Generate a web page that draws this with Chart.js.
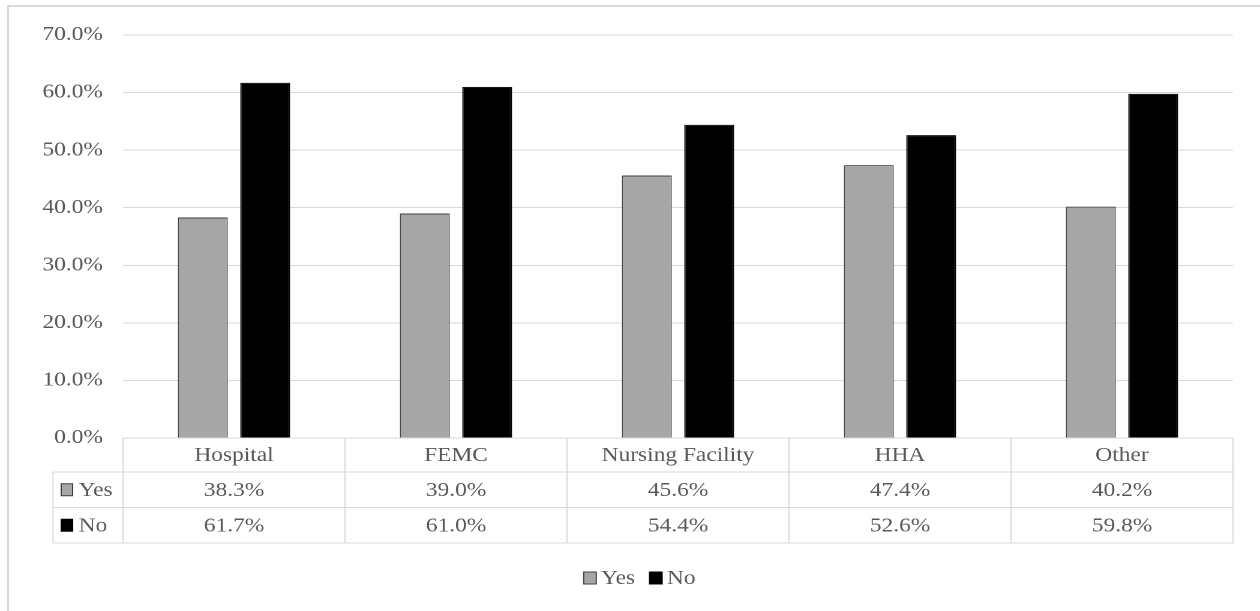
<!DOCTYPE html>
<html><head><meta charset="utf-8">
<script src="https://cdn.jsdelivr.net/npm/chart.js@4.4.1/dist/chart.umd.min.js"></script>
<style>
html,body{margin:0;padding:0;background:#fff;overflow:hidden;width:1260px;height:611px;}
#frame{position:absolute;left:7px;top:5px;width:1400px;height:800px;border:2px solid #d9d9d9;box-sizing:border-box;}
#wrap{position:absolute;left:0;top:0;width:1050px;height:611px;transform:scaleX(1.2);transform-origin:0 0;}
</style></head><body>
<div id="frame"></div>
<div id="wrap"><canvas id="c" width="1050" height="611"></canvas></div>
<script>
const categories = ['Hospital', 'FEMC', 'Nursing Facility', 'HHA', 'Other'];
const seriesNames = ['Yes', 'No'];
const yesValues = [38.3, 39.0, 45.6, 47.4, 40.2];
const noValues = [61.7, 61.0, 54.4, 52.6, 59.8];
const yTicks = [0, 10, 20, 30, 40, 50, 60, 70];

const FONT = "'Liberation Serif','Times New Roman',serif";
const FSIZE = 19.5;
const TEXT = '#595959', LINE = '#d9d9d9';
const YES_FILL = '#a6a6a6', YES_BORDER = '#404040', NO_FILL = '#000000';
const fmt = v => Number(v).toFixed(1) + '%';

const tablePlugin = {
  id: 'dataTable',
  afterDraw(chart) {
    const ctx = chart.ctx, xs = chart.scales.x, area = chart.chartArea;
    const n = categories.length, cw = (area.right - area.left) / n;
    const rows = [area.bottom, 472, 507.5, 543];
    const labelLeft = 44.2;
    ctx.save();
    ctx.strokeStyle = LINE; ctx.lineWidth = 1;
    ctx.beginPath();
    for (let i = 0; i <= n; i++) {
      const px = area.left + i * cw;
      ctx.moveTo(px, rows[0]); ctx.lineTo(px, rows[3]);
    }
    ctx.moveTo(labelLeft, rows[1]); ctx.lineTo(labelLeft, rows[3]);
    for (const r of rows.slice(1)) { ctx.moveTo(labelLeft, r); ctx.lineTo(area.right, r); }
    ctx.stroke();

    ctx.fillStyle = TEXT;
    ctx.font = FSIZE + 'px ' + FONT;
    ctx.textAlign = 'center'; ctx.textBaseline = 'middle';
    const rowMid = [(rows[0] + rows[1]) / 2 + 1, (rows[1] + rows[2]) / 2 + 1, (rows[2] + rows[3]) / 2 + 1];
    const series = [yesValues, noValues];
    categories.forEach((c, i) => {
      const cx = xs.getPixelForValue(i);
      ctx.fillText(c, cx, rowMid[0]);
      ctx.fillText(fmt(series[0][i]), cx, rowMid[1]);
      ctx.fillText(fmt(series[1][i]), cx, rowMid[2]);
    });
    const ds = chart.data.datasets;
    // row labels with keys
    ds.forEach((d, k) => {
      const my = rowMid[k + 1] - 1;
      ctx.fillStyle = d.backgroundColor;
      ctx.fillRect(51, my - 6, 9.5, 12);
      ctx.strokeStyle = d.borderColor; ctx.lineWidth = 1;
      ctx.strokeRect(51, my - 6, 9.5, 12);
      ctx.fillStyle = TEXT; ctx.textAlign = 'left';
      ctx.fillText(d.label, 65.5, my + 1);
    });

    // legend below the table
    const ly = 578, boxW = 10.5, boxH = 12, gapBox = 4, gapItem = 12;
    const widths = ds.map(d => boxW + gapBox + ctx.measureText(d.label).width);
    const total = widths.reduce((a, b) => a + b, 0) + gapItem * (ds.length - 1);
    let lx = 533 - total / 2;
    ds.forEach((d, k) => {
      ctx.fillStyle = d.backgroundColor;
      ctx.fillRect(lx, ly - boxH / 2, boxW, boxH);
      ctx.strokeStyle = d.borderColor; ctx.lineWidth = 1;
      ctx.strokeRect(lx, ly - boxH / 2, boxW, boxH);
      ctx.fillStyle = TEXT; ctx.textAlign = 'left';
      ctx.fillText(d.label, lx + boxW + gapBox, ly + 1);
      lx += widths[k] + gapItem;
    });
    ctx.restore();
  }
};

new Chart(document.getElementById('c'), {
  type: 'bar',
  data: {
    labels: categories,
    datasets: [
      { label: seriesNames[0], data: yesValues, backgroundColor: YES_FILL, borderColor: YES_BORDER, borderWidth: 1,
        categoryPercentage: 0.562, barPercentage: 0.8 },
      { label: seriesNames[1], data: noValues, backgroundColor: NO_FILL, borderColor: NO_FILL, borderWidth: 1,
        categoryPercentage: 0.562, barPercentage: 0.8 }
    ]
  },
  options: {
    responsive: false,
    devicePixelRatio: 2,
    animation: false,
    layout: { padding: { top: 35, right: 22.5, bottom: 0, left: 0 } },
    plugins: {
      tooltip: { enabled: false },
      legend: { display: false }
    },
    scales: {
      x: {
        ticks: { display: false },
        grid: { display: false },
        border: { display: true, color: LINE, width: 1 },
        afterFit(s) { s.height = 173; }
      },
      y: {
        min: 0, max: 70,
        afterBuildTicks(s) { s.ticks = yTicks.map(v => ({ value: v })); },
        ticks: {
          font: { family: FONT, size: FSIZE },
          color: TEXT,
          padding: 16.7,
          callback: v => fmt(v)
        },
        grid: { color: LINE, lineWidth: 1, drawTicks: false },
        border: { display: false },
        afterFit(s) { s.width = 102.5; }
      }
    }
  },
  plugins: [tablePlugin]
});
</script>
</body></html>
